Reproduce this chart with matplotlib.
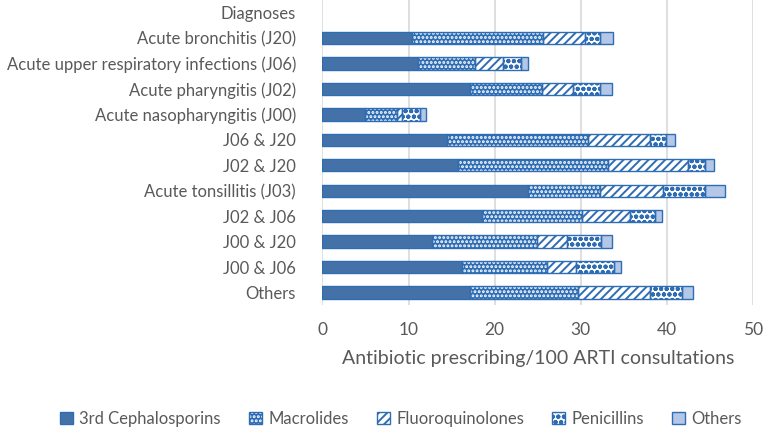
import matplotlib
matplotlib.use("Agg")
import matplotlib.pyplot as plt
from matplotlib.patches import Patch
from matplotlib.legend_handler import HandlerTuple
import numpy as np

categories = ["Others", "J00 & J06", "J00 & J20", "J02 & J06", "Acute tonsillitis (J03)",
              "J02 & J20", "J06 & J20", "Acute nasopharyngitis (J00)",
              "Acute pharyngitis (J02)", "Acute upper respiratory infections (J06)",
              "Acute bronchitis (J20)", "Diagnoses"]

ceph3 = [17.1, 16.2, 12.7, 18.5, 23.9, 15.7, 14.5, 4.9, 17.1, 11.1, 10.4, 0]
macrolides = [12.6, 9.9, 12.2, 11.6, 8.3, 17.5, 16.3, 3.8, 8.4, 6.6, 15.2, 0]
fluoroquinolones = [8.3, 3.4, 3.5, 5.6, 7.3, 9.2, 7.2, 0.5, 3.6, 3.3, 4.9, 0]
penicillins = [3.7, 4.4, 4.0, 2.9, 4.9, 2.0, 1.9, 2.1, 3.1, 2.1, 1.7, 0]
others = [1.3, 0.8, 1.2, 0.8, 2.4, 1.1, 1.0, 0.7, 1.4, 0.8, 1.5, 0]

series_names = ["3rd Cephalosporins", "Macrolides", "Fluoroquinolones", "Penicillins", "Others"]
series = [ceph3, macrolides, fluoroquinolones, penicillins, others]

blue_fill = "#4472A8"
edge_blue = "#2E6DB4"
light = "#B4C7E7"
styles = [
    dict(facecolor=blue_fill, hatch=None, hcolor=blue_fill),
    dict(facecolor=edge_blue, hatch="....", hcolor="white"),
    dict(facecolor="white", hatch="////", hcolor=edge_blue),
    dict(facecolor="white", hatch="ooo", hcolor=edge_blue),
    dict(facecolor=light, hatch=None, hcolor=light),
]

plt.rcParams["font.family"] = ["Lato", "DejaVu Sans"]
plt.rcParams["hatch.linewidth"] = 1.4
text_color = "#595959"

fig = plt.figure(figsize=(7.64, 4.28), dpi=100)
ax = fig.add_axes([0.422, 0.287, 0.5636, 0.713])

y = np.arange(len(categories))
left = np.zeros(len(categories))
handles = []
for name, vals, st in zip(series_names, series, styles):
    vals = np.array(vals, dtype=float)
    m = vals > 0
    ax.barh(y[m], vals[m], left=left[m], height=0.48, color=st["facecolor"],
            hatch=st["hatch"], edgecolor=st["hcolor"], linewidth=0, zorder=2)
    ax.barh(y[m], vals[m], left=left[m], height=0.48, fill=False,
            edgecolor=edge_blue, linewidth=1.0, zorder=3)
    left += vals
    h1 = Patch(facecolor=st["facecolor"], hatch=st["hatch"], edgecolor=st["hcolor"], linewidth=0)
    h2 = Patch(fill=False, edgecolor=edge_blue, linewidth=1.0)
    handles.append((h1, h2))

ax.set_xlim(0, 50)
ax.set_ylim(-0.5, len(categories) - 0.5)
ax.set_xticks([0, 10, 20, 30, 40, 50])
ax.set_yticks(y)
ax.set_yticklabels(categories)
ax.tick_params(axis="y", length=0, labelsize=12, colors=text_color, pad=19)
ax.tick_params(axis="x", length=0, labelsize=12.5, colors=text_color, pad=12)
ax.grid(axis="x", color="#D9D9D9", linewidth=1.2, zorder=0)
ax.set_axisbelow(True)
for s in ax.spines.values():
    s.set_visible(False)
ax.set_xlabel("Antibiotic prescribing/100 ARTI consultations", fontsize=14,
              color=text_color, labelpad=9)

fig.legend(handles, series_names, loc="center", bbox_to_anchor=(0.525, 0.022), ncol=5,
           frameon=False, fontsize=12, labelcolor=text_color,
           handlelength=0.75, handleheight=0.75, handletextpad=0.4, columnspacing=1.7,
           handler_map={tuple: HandlerTuple(ndivide=1)})

fig.savefig("out.png", dpi=100)
